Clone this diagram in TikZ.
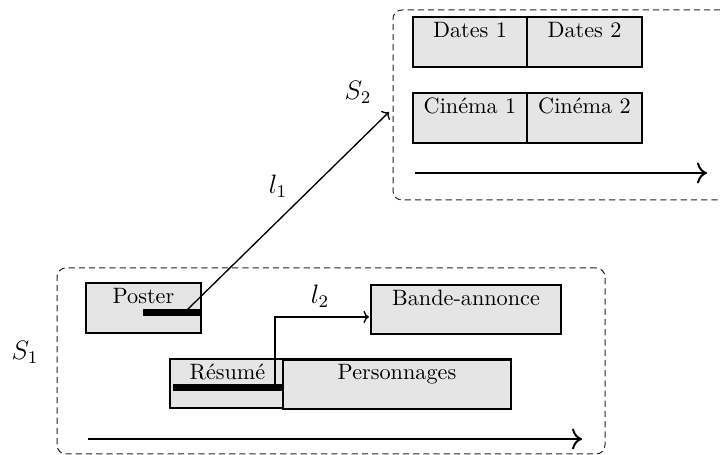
\documentclass[tikz,border=0pt]{standalone}
\usetikzlibrary{arrows.meta,fit}
\begin{document}
\begin{tikzpicture}[x=0.45pt,y=-0.45pt,
 box/.style={draw, line width=1pt, fill=black!10, inner sep=0pt},
 frame/.style={draw=black!85, line width=0.45pt, dash pattern=on 2.8pt off 1.8pt, rounded corners=4pt, inner sep=0pt},
 bar/.style={line width=3pt},
 link/.style={line width=0.6pt, -{To[length=2.5pt,width=5.5pt]}},
 axis/.style={line width=0.9pt, -{To[length=4.5pt,width=9.5pt]}},
 lab/.style={font=\large},
 title/.style={anchor=north, inner sep=2.5pt}]
\useasboundingbox (0,0) rectangle (720,455);
% frames
\node[frame, fit={(393,10) (760,200)}] (s2) {};
\node[frame, fit={(57,268) (605,454)}] (s1) {};
% S2 boxes
\node[box, fit={(413,17) (527,67)}, label={[title]north:Dates 1}] (d1) {};
\node[box, fit={(527,17) (642,67)}, label={[title]north:Dates 2}] (d2) {};
\node[box, fit={(413,93) (527,143)}, label={[title]north:Cinéma 1}] (c1) {};
\node[box, fit={(527,93) (642,143)}, label={[title]north:Cinéma 2}] (c2) {};
% S1 boxes
\node[box, fit={(86,283) (201,333)}, label={[title]north:Poster}] (poster) {};
\node[box, fit={(371,285) (561,334)}, label={[title]north:Bande-annonce}] (ba) {};
\node[box, fit={(170,359) (285,408)}, label={[title]north:Résumé}] (res) {};
\node[box, fit={(283,359.5) (511,409)}, label={[title]north:Personnages}] (pers) {};
% bars
\coordinate (pb0) at (143,312.5);
\draw[bar] (pb0) -- (pb0 -| poster.east);
\coordinate (rb0) at (173,387.5);
\draw[bar] (rb0) -- (rb0 -| pers.west);
% axes
\coordinate (a1s) at (88,439);
\coordinate (a1e) at (582,439);
\draw[axis] (a1s) -- (a1e);
\coordinate (a2s) at (415,173);
\coordinate (a2e) at (707,173);
\draw[axis] (a2s) -- (a2e);
% links
\coordinate (l1s) at (185,312);
\coordinate (l1e) at (389,112);
\draw[link] (l1s) -- (l1e);
\coordinate (l2s) at (275,387);
\coordinate (l2e) at (369,317);
\draw[link] (l2s) |- (l2e);
% labels
\node[lab] (S2) at (358,92) {$S_2$};
\node[lab] (L1) at (278,186) {$l_1$};
\node[lab] (S1) at (25,352) {$S_1$};
\node[lab] (L2) at (320,296) {$l_2$};
\end{tikzpicture}
\end{document}
